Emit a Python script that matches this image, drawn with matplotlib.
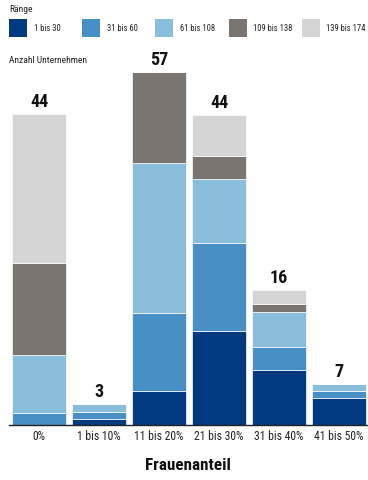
import matplotlib
matplotlib.use("Agg")
import matplotlib.pyplot as plt
from matplotlib import font_manager
from matplotlib.patches import Rectangle

# ---------------- data ----------------
categories = ['0%', '1 bis 10%', '11 bis 20%', '21 bis 30%', '31 bis 40%', '41 bis 50%']
series_names = ['1 bis 30', '31 bis 60', '61 bis 108', '109 bis 138', '139 bis 174']
r1_30 = [0.0, 0.86, 4.86, 13.5, 7.9, 3.9]
r31_60 = [1.76, 1.0, 11.2, 12.5, 3.2, 0.96]
r61_108 = [8.24, 1.14, 21.3, 9.1, 5.1, 1.0]
r109_138 = [13.1, 0.0, 13.1, 3.4, 1.1, 0.0]
r139_174 = [21.3, 0.0, 0.0, 5.8, 2.0, 0.0]
totals = [44, 3, 57, 44, 16, 7]

colors = ['#023A82', '#478FC4', '#88BDDC', '#7A7570', '#D5D5D5']

# ---------------- fonts ----------------
avail = {f.name for f in font_manager.fontManager.ttflist}
cond = [f for f in ['Liberation Sans Narrow', 'Roboto Condensed', 'Open Sans Condensed',
                    'DejaVu Sans Condensed', 'Liberation Sans', 'DejaVu Sans'] if f in avail]
FONT = cond[0] if cond else 'DejaVu Sans'
plt.rcParams['font.family'] = [FONT, 'DejaVu Sans']

W, H = 368, 480
fig = plt.figure(figsize=(W / 100, H / 100), dpi=100)
ax = fig.add_axes([9 / W, 55 / H, 359 / W, 365 / H])

series = [r1_30, r31_60, r61_108, r109_138, r139_174]
x = list(range(len(categories)))
bottom = [0.0] * len(categories)
for vals, c in zip(series, colors):
    ax.bar(x, vals, width=0.9, bottom=bottom, color=c, edgecolor='white',
           linewidth=0.5, zorder=2)
    bottom = [b + v for b, v in zip(bottom, vals)]

for xi, top, t in zip(x, bottom, totals):
    ax.annotate(str(t), (xi, top), xytext=(0, 5), textcoords='offset points',
                ha='center', va='baseline', fontsize=13, fontweight='bold', color='#111111')

ax.set_xlim(-0.5, 5.483)
ax.set_ylim(0, 365 / 7)
ax.set_xticks(x)
ax.set_xticklabels(categories, fontsize=8.4, color='#222222')
ax.tick_params(axis='x', length=0, pad=3.8)
ax.set_yticks([])
for s in ['top', 'right', 'left']:
    ax.spines[s].set_visible(False)
ax.spines['bottom'].set_color('#222222')
ax.spines['bottom'].set_linewidth(1.0)
ax.spines['bottom'].set_zorder(3)

# title
fig.text(188 / W, 1 - 466 / H, 'Frauenanteil', ha='center', va='center',
         fontsize=12.3, fontweight='bold', color='#111111')

# legend (manual)
fig.text(9 / W, 1 - 10 / H, 'Ränge', ha='left', va='center', fontsize=6.8, color='#222222')
for i, (name, c) in enumerate(zip(series_names, colors)):
    x0 = 9 + i * 73.2
    fig.patches.append(Rectangle((x0 / W, 1 - 37 / H), 18 / W, 18 / H,
                                 transform=fig.transFigure, facecolor=c, edgecolor='none'))
    fig.text((x0 + 24.5) / W, 1 - 28.5 / H, name, ha='left', va='center',
             fontsize=6.2, color='#222222')

fig.text(9 / W, 1 - 60.5 / H, 'Anzahl Unternehmen', ha='left', va='center',
         fontsize=6.8, color='#222222')

fig.savefig('out.png', dpi=100)
